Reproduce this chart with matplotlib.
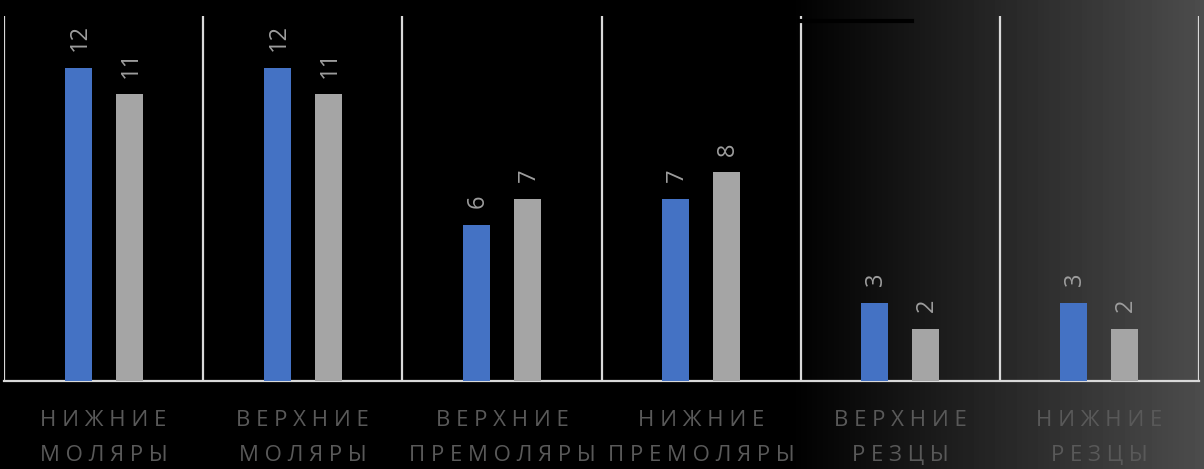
import matplotlib
matplotlib.use("Agg")
import matplotlib.pyplot as plt
import numpy as np

plt.rcParams["font.family"] = ["Open Sans", "DejaVu Sans"]

categories = ["НИЖНИЕ\nМОЛЯРЫ", "ВЕРХНИЕ\nМОЛЯРЫ", "ВЕРХНИЕ\nПРЕМОЛЯРЫ",
              "НИЖНИЕ\nПРЕМОЛЯРЫ", "ВЕРХНИЕ\nРЕЗЦЫ", "НИЖНИЕ\nРЕЗЦЫ"]
series_a = [12, 12, 6, 7, 3, 3]
series_b = [11, 11, 7, 8, 2, 2]

blue = "#4472C4"
gray = "#A5A5A5"


def spaced(label):
    # imitate the wide letter spacing of the original labels
    return "\n".join(" ".join(list(line)) for line in label.split("\n"))


fig = plt.figure(figsize=(12.04, 4.69), dpi=100, facecolor="black")

# background: black on the left, fading to grey on the right
bg = fig.add_axes([0, 0, 1, 1], zorder=-10)
w = 1204
ramp = np.clip((np.arange(w) - 790) / (w - 790), 0, 1) * 0.30
bg.imshow(np.tile(ramp, (10, 1)), cmap="gray", vmin=0, vmax=1,
          aspect="auto", extent=[0, 1, 0, 1])
bg.set_axis_off()

ax = fig.add_axes([4 / 1204, 88 / 469, 1195 / 1204, 365 / 469])
ax.patch.set_alpha(0)

x = np.arange(len(categories))
bw = 0.136
off = 0.128
bars_a = ax.bar(x - off, series_a, width=bw, color=blue, zorder=3)
bars_b = ax.bar(x + off, series_b, width=bw, color=gray, zorder=3)

for bars, vals in [(bars_a, series_a), (bars_b, series_b)]:
    for b, v in zip(bars, vals):
        ax.annotate(str(v), (b.get_x() + b.get_width() / 2, b.get_height()),
                    xytext=(1, 12), textcoords="offset points",
                    rotation=90, ha="center", va="bottom",
                    fontsize=17, color="#9d9d9d")

for edge in np.arange(len(categories) + 1) - 0.5:
    ax.axvline(edge, color="#d9d9d9", lw=1.6, zorder=2)

ax.set_xlim(-0.5, len(categories) - 0.5)
ax.set_ylim(0, 14)
for s in ["top", "left", "right"]:
    ax.spines[s].set_visible(False)
ax.spines["bottom"].set_color("#d9d9d9")
ax.spines["bottom"].set_linewidth(1.6)
ax.set_yticks([])
ax.set_xticks(x, [spaced(c) for c in categories])
ax.tick_params(axis="x", length=0, pad=21, labelsize=16, labelcolor="#595959")
for t in ax.get_xticklabels():
    t.set_linespacing(1.85)

# stray dark line near the top of the original slide
fig.add_artist(plt.Line2D([800 / 1204, 912 / 1204], [1 - 21 / 469, 1 - 21 / 469],
                          color="black", lw=3))

fig.savefig("out.png", dpi=100, facecolor=fig.get_facecolor())
